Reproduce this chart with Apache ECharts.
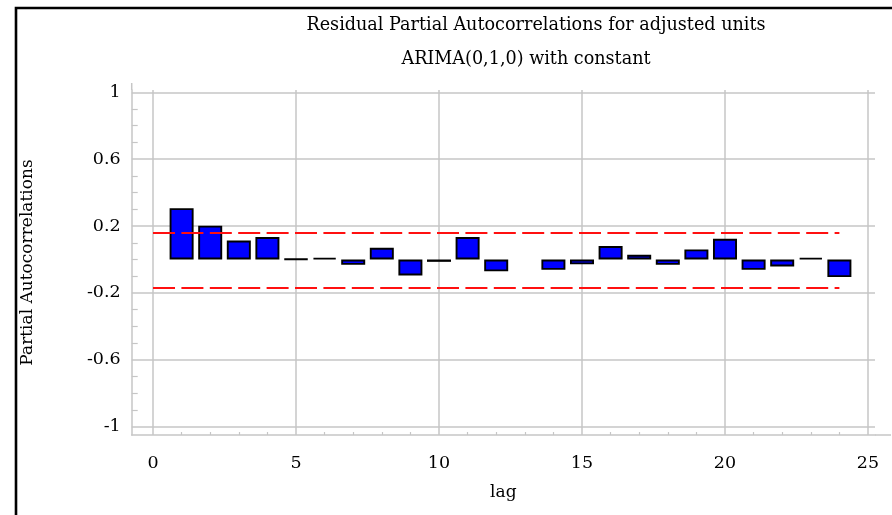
<!DOCTYPE html>
<html><head><meta charset="utf-8">
<script src="https://cdn.jsdelivr.net/npm/echarts@6/dist/echarts.min.js"></script>
<style>html,body{margin:0;padding:0;background:#fff}#c{width:892px;height:515px}</style>
</head><body><div id="c"></div>
<script>
// ---- data ----
const lags = [1,2,3,4,5,6,7,8,9,10,11,12,13,14,15,16,17,18,19,20,21,22,23,24];
const pacf = [0.307,0.202,0.113,0.134,0.003,0.010,-0.032,0.070,-0.095,-0.014,0.134,-0.071,null,-0.062,-0.029,0.080,0.028,-0.032,0.060,0.124,-0.062,-0.042,0.010,-0.105];
const upperLimit = 0.158;
const lowerLimit = -0.170;
const limitLags = [0, 24];
const xTickValues = [0,5,10,15,20,25];
const xMinorValues = [1,2,3,4,6,7,8,9,11,12,13,14,16,17,18,19,21,22,23,24];
const yTickValues = [-1,-0.6,-0.2,0.2,0.6,1];
const yMinorValues = [-0.9,-0.8,-0.7,-0.5,-0.4,-0.3,-0.1,0,0.1,0.3,0.4,0.5,0.7,0.8,0.9];
const titleLine1 = 'Residual Partial Autocorrelations for adjusted units';
const titleLine2 = 'ARIMA(0,1,0) with constant';

// ---- chart ----
const FONT = 'DejaVu Serif';
const GRID_COLOR = '#c6c6c6';
const chart = echarts.init(document.getElementById('c'), null, {renderer:'canvas'});
const xMin = -0.745, xMax = 25.245, yMin = -1.0496, yMax = 1.0137;
const barData = [];
lags.forEach((l,i)=>{ if (pacf[i] !== null) barData.push([l,pacf[i]]); });
const upperData = limitLags.map(l=>[l,upperLimit]);
const lowerData = limitLags.map(l=>[l,lowerLimit]);
chart.setOption({
  animation:false,
  backgroundColor:'#ffffff',
  title:[
    {text:titleLine1,left:531,top:11,textAlign:'center',textStyle:{fontFamily:FONT,fontSize:17.6,fontWeight:'normal',color:'#000'}},
    {text:titleLine2,left:521,top:45,textAlign:'center',textStyle:{fontFamily:FONT,fontSize:17.6,fontWeight:'normal',color:'#000'}}
  ],
  grid:{left:131.7,right:17,top:90,bottom:80,containLabel:false},
  xAxis:[
    {type:'value',position:'bottom',min:xMin,max:xMax,
     name:'lag',nameLocation:'middle',nameGap:49,nameTextStyle:{fontFamily:FONT,fontSize:17,color:'#000'},
     axisLine:{show:true,onZero:false,lineStyle:{color:GRID_COLOR,width:1.5}},
     axisTick:{show:false,customValues:xTickValues},
     axisLabel:{customValues:xTickValues,fontFamily:FONT,fontSize:17.5,color:'#000',margin:19,formatter:v=>String(v)},
     splitLine:{show:true,lineStyle:{color:GRID_COLOR,width:1.5}}},
    {type:'value',position:'bottom',min:xMin,max:xMax,
     axisLine:{show:false,onZero:false},
     axisTick:{show:true,inside:true,length:3,customValues:xMinorValues,lineStyle:{color:GRID_COLOR,width:1.2}},
     axisLabel:{show:false},splitLine:{show:false}}
  ],
  yAxis:[
    {type:'value',position:'left',min:yMin,max:yMax,
     name:'Partial Autocorrelations',nameLocation:'middle',nameGap:96,nameTextStyle:{fontFamily:FONT,fontSize:17,color:'#000'},
     axisLine:{show:true,onZero:false,lineStyle:{color:GRID_COLOR,width:1.5}},
     axisTick:{show:false,customValues:yTickValues},
     axisLabel:{customValues:yTickValues,fontFamily:FONT,fontSize:17.5,color:'#000',margin:11,formatter:v=>String(+(+v).toFixed(1))},
     splitLine:{show:true,lineStyle:{color:GRID_COLOR,width:1.5}}},
    {type:'value',position:'left',min:yMin,max:yMax,
     axisLine:{show:false,onZero:false},
     axisTick:{show:true,inside:true,length:6,customValues:yMinorValues,lineStyle:{color:GRID_COLOR,width:1.2}},
     axisLabel:{show:false},splitLine:{show:false}}
  ],
  graphic:[
    {type:'rect',silent:true,shape:{x:16,y:8,width:900,height:520},style:{fill:'none',stroke:'#000',lineWidth:2.6},z:10},
    {type:'line',silent:true,shape:{x1:875,y1:435,x2:891,y2:435},style:{stroke:GRID_COLOR,lineWidth:1.5}},
    {type:'line',silent:true,shape:{x1:131.7,y1:83,x2:131.7,y2:90},style:{stroke:GRID_COLOR,lineWidth:1.5}}
  ],
  series:[
    {type:'bar',xAxisIndex:0,yAxisIndex:0,data:barData,barWidth:24,
     itemStyle:{color:'#0000ff',borderColor:'#000',borderWidth:1.9}},
    {type:'line',xAxisIndex:0,yAxisIndex:0,data:upperData,symbol:'none',
     lineStyle:{color:'#ff1010',width:2,type:[22,6.4]}},
    {type:'line',xAxisIndex:0,yAxisIndex:0,data:lowerData,symbol:'none',
     lineStyle:{color:'#ff1010',width:2,type:[22,6.4]}}
  ]
});
</script></body></html>
